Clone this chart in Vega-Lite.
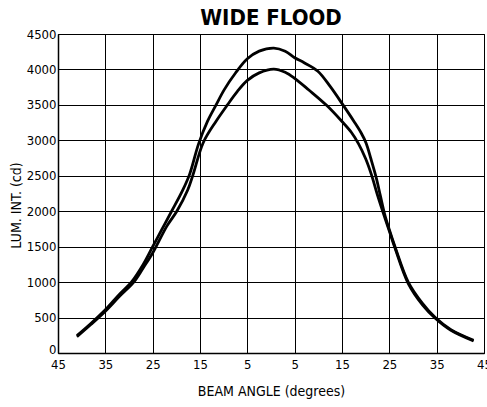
{
  "$schema": "https://vega.github.io/schema/vega-lite/v6.json",
  "autosize": {"type": "none"},
  "width": 426,
  "height": 319,
  "padding": {"left": 58, "top": 34, "right": 3, "bottom": 54},
  "background": "white",
  "title": {"text": "WIDE FLOOD", "font": "DejaVu Sans Condensed, Roboto, sans-serif", "fontSize": 22, "fontWeight": "bold", "color": "black", "offset": -2, "anchor": "middle"},
  "config": {
    "view": {"stroke": "black", "strokeWidth": 1},
    "font": "DejaVu Sans Condensed, Roboto, sans-serif"
  },
  "data": {"values": [
    {"angle": -41, "lum": 245, "curve": "A"},
    {"angle": -38, "lum": 420, "curve": "A"},
    {"angle": -35, "lum": 610, "curve": "A"},
    {"angle": -32, "lum": 830, "curve": "A"},
    {"angle": -29.5, "lum": 1000, "curve": "A"},
    {"angle": -27, "lum": 1250, "curve": "A"},
    {"angle": -25, "lum": 1500, "curve": "A"},
    {"angle": -23, "lum": 1750, "curve": "A"},
    {"angle": -21, "lum": 2000, "curve": "A"},
    {"angle": -18.7, "lum": 2290, "curve": "A"},
    {"angle": -17.2, "lum": 2520, "curve": "A"},
    {"angle": -15.3, "lum": 2950, "curve": "A"},
    {"angle": -13.4, "lum": 3270, "curve": "A"},
    {"angle": -11.6, "lum": 3500, "curve": "A"},
    {"angle": -9.9, "lum": 3712, "curve": "A"},
    {"angle": -7.5, "lum": 3950, "curve": "A"},
    {"angle": -5, "lum": 4150, "curve": "A"},
    {"angle": -2.5, "lum": 4258, "curve": "A"},
    {"angle": 0.6, "lum": 4302, "curve": "A"},
    {"angle": 3, "lum": 4258, "curve": "A"},
    {"angle": 5, "lum": 4165, "curve": "A"},
    {"angle": 7, "lum": 4095, "curve": "A"},
    {"angle": 9.9, "lum": 3975, "curve": "A"},
    {"angle": 12.5, "lum": 3760, "curve": "A"},
    {"angle": 15.2, "lum": 3500, "curve": "A"},
    {"angle": 17.5, "lum": 3270, "curve": "A"},
    {"angle": 19, "lum": 3110, "curve": "A"},
    {"angle": 20.1, "lum": 2960, "curve": "A"},
    {"angle": 21.1, "lum": 2740, "curve": "A"},
    {"angle": 22.2, "lum": 2480, "curve": "A"},
    {"angle": 23.1, "lum": 2220, "curve": "A"},
    {"angle": 24, "lum": 1960, "curve": "A"},
    {"angle": 25, "lum": 1740, "curve": "A"},
    {"angle": 26.2, "lum": 1500, "curve": "A"},
    {"angle": 29, "lum": 1000, "curve": "A"},
    {"angle": 32, "lum": 700, "curve": "A"},
    {"angle": 34.7, "lum": 500, "curve": "A"},
    {"angle": 38, "lum": 330, "curve": "A"},
    {"angle": 42.8, "lum": 180, "curve": "A"},
    {"angle": -41, "lum": 230, "curve": "B"},
    {"angle": -38, "lum": 405, "curve": "B"},
    {"angle": -35, "lum": 590, "curve": "B"},
    {"angle": -32, "lum": 800, "curve": "B"},
    {"angle": -29, "lum": 1000, "curve": "B"},
    {"angle": -27, "lum": 1200, "curve": "B"},
    {"angle": -25, "lum": 1410, "curve": "B"},
    {"angle": -22, "lum": 1790, "curve": "B"},
    {"angle": -19.9, "lum": 2000, "curve": "B"},
    {"angle": -17.6, "lum": 2300, "curve": "B"},
    {"angle": -16.5, "lum": 2510, "curve": "B"},
    {"angle": -14.3, "lum": 2970, "curve": "B"},
    {"angle": -11.6, "lum": 3270, "curve": "B"},
    {"angle": -9.2, "lum": 3500, "curve": "B"},
    {"angle": -7.1, "lum": 3690, "curve": "B"},
    {"angle": -5, "lum": 3845, "curve": "B"},
    {"angle": -2.5, "lum": 3952, "curve": "B"},
    {"angle": 0.6, "lum": 4005, "curve": "B"},
    {"angle": 3, "lum": 3960, "curve": "B"},
    {"angle": 5, "lum": 3875, "curve": "B"},
    {"angle": 8, "lum": 3710, "curve": "B"},
    {"angle": 11.8, "lum": 3490, "curve": "B"},
    {"angle": 15, "lum": 3265, "curve": "B"},
    {"angle": 17, "lum": 3110, "curve": "B"},
    {"angle": 18.5, "lum": 2950, "curve": "B"},
    {"angle": 20, "lum": 2740, "curve": "B"},
    {"angle": 21.2, "lum": 2520, "curve": "B"},
    {"angle": 22.4, "lum": 2250, "curve": "B"},
    {"angle": 23.6, "lum": 2000, "curve": "B"},
    {"angle": 25, "lum": 1720, "curve": "B"},
    {"angle": 26.2, "lum": 1480, "curve": "B"},
    {"angle": 29, "lum": 980, "curve": "B"},
    {"angle": 32, "lum": 680, "curve": "B"},
    {"angle": 34.7, "lum": 490, "curve": "B"},
    {"angle": 38, "lum": 320, "curve": "B"},
    {"angle": 42.8, "lum": 170, "curve": "B"}
  ]},
  "mark": {"type": "line", "color": "black", "strokeWidth": 2.8, "interpolate": "catmull-rom", "clip": true},
  "encoding": {
    "x": {
      "field": "angle", "type": "quantitative",
      "scale": {"domain": [-45, 45], "nice": false, "zero": false},
      "axis": {
        "values": [-45, -35, -25, -15, -5, 5, 15, 25, 35, 45],
        "labelExpr": "abs(datum.value)",
        "title": "BEAM ANGLE (degrees)",
        "grid": true, "gridColor": "black", "gridOpacity": 1, "gridWidth": 1,
        "ticks": false, "domain": true, "domainColor": "black", "domainWidth": 1.5,
        "labelFontSize": 13, "labelColor": "black", "labelPadding": 5,
        "labelFlush": false, "labelOverlap": false,
        "titleFontSize": 14, "titleFontWeight": "normal", "titleColor": "black",
        "titleY": 31
      }
    },
    "y": {
      "field": "lum", "type": "quantitative",
      "scale": {"domain": [0, 4500], "nice": false},
      "axis": {
        "values": [0, 500, 1000, 1500, 2000, 2500, 3000, 3500, 4000, 4500],
        "format": "d",
        "title": "LUM. INT. (cd)",
        "grid": true, "gridColor": "black", "gridOpacity": 1, "gridWidth": 1,
        "ticks": false, "domain": true, "domainColor": "black", "domainWidth": 1.5,
        "labelFontSize": 13, "labelColor": "black", "labelPadding": 2,
        "labelBaseline": {"condition": {"test": "datum.value === 0", "value": "alphabetic"}, "value": "middle"},
        "labelFlush": false, "labelOverlap": false,
        "titleFontSize": 14, "titleFontWeight": "normal", "titleColor": "black",
        "titleX": -35, "titleY": 171
      }
    },
    "detail": {"field": "curve"}
  }
}
